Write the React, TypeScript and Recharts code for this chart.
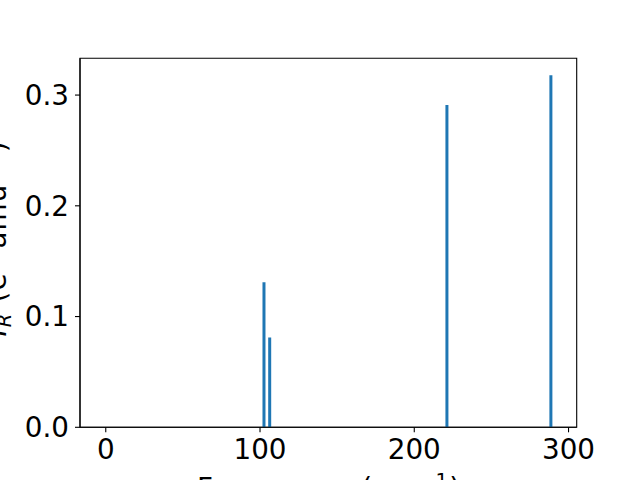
import { Bar, BarChart, ReferenceArea, XAxis, YAxis } from "recharts";

const frequencies = [102.8, 106.5, 221.4, 288.8];
const intensities = [0.131, 0.081, 0.291, 0.318];
const xTicks = [0, 100, 200, 300];
const yTicks = [0, 0.1, 0.2, 0.3];

const X_MIN = -16.7;
const X_MAX = 305.3;
const Y_MAX = 0.3332;

const FONT = "DejaVu Sans";
const FS = 27.8;
const SUB = 19.5;
const tickStyle = { fill: "#000", fontSize: FS, fontFamily: FONT };

const data = frequencies.map((f, i) => ({ freq: f, ir: intensities[i] }));

function XLabel() {
  return (
    <text
      x={328.5}
      y={498}
      textAnchor="middle"
      textLength={263}
      lengthAdjust="spacing"
      fill="#000"
      fontSize={FS}
      fontFamily={FONT}
    >
      Frequency (cm
      <tspan dy={-11} fontSize={SUB}>−1</tspan>
      <tspan dy={11}>)</tspan>
    </text>
  );
}

function YLabel() {
  return (
    <text
      x={6}
      y={239}
      transform="rotate(-90 6 239)"
      textAnchor="middle"
      textLength={195}
      lengthAdjust="spacing"
      fill="#000"
      fontSize={FS}
      fontFamily={FONT}
    >
      <tspan fontStyle="italic">I</tspan>
      <tspan dy={5} fontSize={SUB} fontStyle="italic">R</tspan>
      <tspan dy={-5}> (e</tspan>
      <tspan dy={-11} fontSize={SUB}>2</tspan>
      <tspan dy={11}> amu</tspan>
      <tspan dy={-11} fontSize={SUB}>−1</tspan>
      <tspan dy={11}>)</tspan>
    </text>
  );
}

export default function App() {
  return (
    <div style={{ position: "absolute", left: 0, top: 0, width: 640, height: 480, background: "#fff" }}>
      <BarChart
        width={640}
        height={480}
        data={data}
        margin={{ top: 58.3, right: 63.3, bottom: 0, left: 0 }}
        barCategoryGap={0}
      >
        <ReferenceArea
          x1={X_MIN}
          x2={X_MAX}
          y1={0}
          y2={Y_MAX}
          fill="none"
          fillOpacity={0}
          stroke="#000"
          strokeWidth={1.1}
        />
        <XAxis
          dataKey="freq"
          type="number"
          domain={[X_MIN, X_MAX]}
          ticks={xTicks}
          allowDataOverflow
          height={52.7}
          tickSize={5}
          tickMargin={7}
          tick={tickStyle}
          axisLine={{ stroke: "#000", strokeWidth: 1.1 }}
          tickLine={{ stroke: "#000", strokeWidth: 1.1 }}
          label={<XLabel />}
        />
        <YAxis
          type="number"
          domain={[0, Y_MAX]}
          ticks={yTicks}
          allowDataOverflow
          width={80}
          tickSize={5}
          tickMargin={6}
          tick={tickStyle}
          tickFormatter={(v: number) => v.toFixed(1)}
          axisLine={{ stroke: "#000", strokeWidth: 1.1 }}
          tickLine={{ stroke: "#000", strokeWidth: 1.1 }}
          label={<YLabel />}
        />
        <Bar dataKey="ir" fill="#1f77b4" barSize={3} isAnimationActive={false} />
      </BarChart>
    </div>
  );
}
